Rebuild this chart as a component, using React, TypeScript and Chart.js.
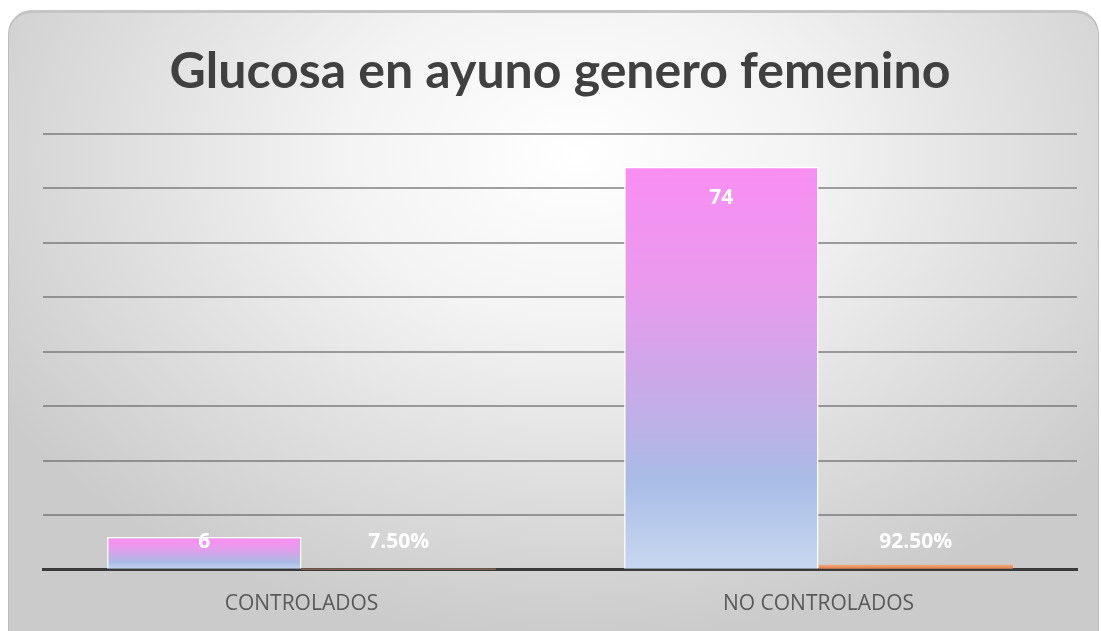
import React, { useEffect, useRef } from "react";
import { Chart, registerables } from "chart.js";

Chart.register(...registerables);

const titleText = "Glucosa en ayuno genero femenino";
const categories = ["CONTROLADOS", "NO CONTROLADOS"];
const counts = [6, 74];
const percents = [0.075, 0.925];
const percentLabels = ["7.50%", "92.50%"];
const countLabels = ["6", "74"];
const yMax = 80;
const yStep = 10;

const labelPlugin = {
  id: "barLabels",
  afterDatasetsDraw(chart: any) {
    const ctx = chart.ctx;
    ctx.save();
    ctx.font = "bold 21px 'Open Sans', sans-serif";
    ctx.fillStyle = "#ffffff";
    ctx.textAlign = "center";
    ctx.textBaseline = "middle";
    chart.data.datasets.forEach((ds: any, di: number) => {
      const meta = chart.getDatasetMeta(di);
      meta.data.forEach((el: any, i: number) => {
        const base = el.base;
        let y;
        let text;
        if (di === 0) {
          y = Math.min(el.y + 31, base - 27);
          text = countLabels[i];
        } else {
          y = Math.min(el.y - 22, base - 27);
          text = percentLabels[i];
        }
        ctx.fillText(text, el.x, y);
      });
    });
    ctx.restore();
  },
};

function countGradient(context: any) {
  const chart = context.chart;
  const area = chart.chartArea;
  if (!area || context.type !== "data") return "#e49aec";
  const ys = chart.scales.y;
  const top = ys.getPixelForValue(context.raw);
  const bottom = ys.getPixelForValue(0);
  const g = chart.ctx.createLinearGradient(0, top, 0, bottom);
  g.addColorStop(0, "#f98ef3");
  g.addColorStop(0.3, "#e99aed");
  g.addColorStop(0.55, "#c8aae8");
  g.addColorStop(0.78, "#a9bce6");
  g.addColorStop(1, "#c8d8f1");
  return g;
}

function pctGradient(context: any) {
  const chart = context.chart;
  const area = chart.chartArea;
  if (!area || context.type !== "data") return "#e88a52";
  const ys = chart.scales.y;
  const top = ys.getPixelForValue(context.raw);
  const bottom = ys.getPixelForValue(0);
  const g = chart.ctx.createLinearGradient(0, top, 0, bottom + 0.01);
  g.addColorStop(0, "#f3a67a");
  g.addColorStop(1, "#d9783f");
  return g;
}

export default function App() {
  const ref = useRef<HTMLCanvasElement | null>(null);
  useEffect(() => {
    if (!ref.current) return;
    const chart = new Chart(ref.current, {
      type: "bar",
      data: {
        labels: categories,
        datasets: [
          {
            label: "Cantidad",
            data: counts,
            backgroundColor: countGradient,
            borderColor: "#ffffff",
            borderWidth: 1.5,
          },
          {
            label: "Porcentaje",
            data: percents,
            backgroundColor: pctGradient,
            borderColor: "#f0b58f",
            borderWidth: 0,
          },
        ],
      },
      options: {
        animation: false,
        responsive: false,
        maintainAspectRatio: false,
        layout: { padding: { left: 43, right: 24, top: 0, bottom: 12 } },
        datasets: { bar: { categoryPercentage: 0.752, barPercentage: 1 } },
        plugins: {
          legend: { display: false },
          tooltip: { enabled: false },
          title: {
            display: true,
            text: titleText,
            color: "#404040",
            font: { family: "Lato, sans-serif", size: 50, weight: "bold" },
            padding: { top: 42, bottom: 32 },
          },
        },
        scales: {
          x: {
            grid: { display: false, drawTicks: false },
            border: { display: true, color: "#3a3a3a", width: 3 },
            ticks: {
              color: "#595959",
              font: { family: "'Open Sans', sans-serif", size: 21 },
              padding: 22,
            },
          },
          y: {
            min: 0,
            max: yMax,
            ticks: { display: false, stepSize: yStep },
            border: { display: false },
            grid: {
              drawTicks: false,
              color: (c: any) => (c.tick && c.tick.value === 0 ? "rgba(0,0,0,0)" : "rgba(100,100,100,0.6)"),
              lineWidth: 2,
            },
          },
        },
      },
      plugins: [labelPlugin],
    });
    return () => chart.destroy();
  }, []);

  return (
    <div
      style={{
        position: "fixed",
        left: 8,
        top: 10,
        width: 1091,
        height: 650,
        borderRadius: 24,
        border: "1px solid #bdbdbd",
        borderTop: "3px solid #c4c4c4",
        boxSizing: "border-box",
        overflow: "hidden",
        background:
          "radial-gradient(ellipse 62% 75% at 52% 22%, #ffffff 0%, #f3f3f3 35%, #dcdcdc 72%, #cbcbcb 100%)",
      }}
    >
      <canvas
        ref={ref}
        width={1101}
        height={651}
        style={{ position: "fixed", left: 0, top: 0, width: 1101, height: 651 }}
      />
    </div>
  );
}
